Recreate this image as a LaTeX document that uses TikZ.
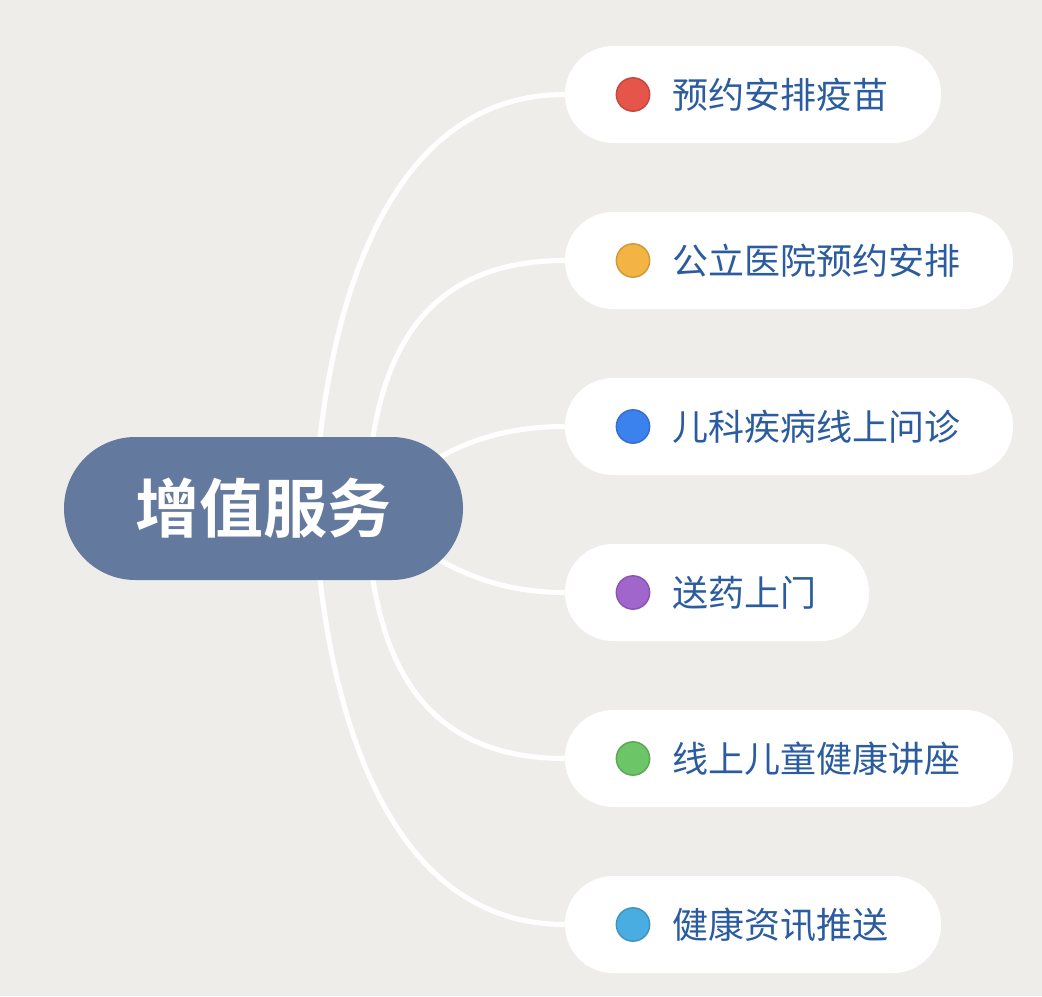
\documentclass[tikz,border=0pt]{standalone}
\usepackage{fontspec}
\newfontfamily\cjk{Noto Sans CJK SC}
\newfontfamily\cjkb{Noto Sans CJK SC Bold}
\usetikzlibrary{backgrounds,calc}
\definecolor{bgc}{HTML}{EEEDE9}
\definecolor{mainc}{HTML}{637A9E}
\definecolor{txtc}{HTML}{2B5C9F}
\definecolor{dred}{HTML}{E5554A}
\definecolor{dorange}{HTML}{F4B443}
\definecolor{dblue}{HTML}{3C82EE}
\definecolor{dpurple}{HTML}{A066CC}
\definecolor{dgreen}{HTML}{6CC566}
\definecolor{dlblue}{HTML}{4AADE2}
\tikzset{
  mainnode/.style={fill=mainc, rounded corners=53.5pt, minimum width=299.25pt, minimum height=107.25pt, inner sep=0pt, text=white, font=\cjkb\fontsize{48pt}{50pt}\selectfont},
  leaf/.style={fill=white, rounded corners=36pt, minimum height=72.75pt, inner sep=0pt},
  dotnode/.style={circle, fill=#1, draw=#1!85!black, line width=1.1pt, minimum size=25pt, inner sep=0pt},
  label/.style={anchor=west, inner sep=0pt, text=txtc, font=\cjk\fontsize{27pt}{30pt}\selectfont},
  conn/.style={draw=white, line width=3.8pt}
}
\begin{document}
\begin{tikzpicture}[x=0.75pt,y=-0.75pt]
\useasboundingbox (0,0) rectangle (1042,996);
\node[mainnode] (c) at (263.5,508.5) {增值服务};
\node[leaf, minimum width=282pt] (n1) at (753,94.5) {};
\node[leaf, minimum width=336pt] (n2) at (789,260.5) {};
\node[leaf, minimum width=336pt] (n3) at (789,426.5) {};
\node[leaf, minimum width=228pt] (n4) at (717,592.5) {};
\node[leaf, minimum width=336pt] (n5) at (789,758.5) {};
\node[leaf, minimum width=282pt] (n6) at (753,924.5) {};
\node[dotnode=dred] (d1) at (633,94.5) {};
\node[dotnode=dorange] (d2) at (633,260.5) {};
\node[dotnode=dblue] (d3) at (633,426.5) {};
\node[dotnode=dpurple] (d4) at (633,592.5) {};
\node[dotnode=dgreen] (d5) at (633,758.5) {};
\node[dotnode=dlblue] (d6) at (633,924.5) {};
\node[label] (t1) at (672,94.5) {预约安排疫苗};
\node[label] (t2) at (672,260.5) {公立医院预约安排};
\node[label] (t3) at (672,426.5) {儿科疾病线上问诊};
\node[label] (t4) at (672,592.5) {送药上门};
\node[label] (t5) at (672,758.5) {线上儿童健康讲座};
\node[label] (t6) at (672,924.5) {健康资讯推送};
\begin{pgfonlayer}{background}
\fill[bgc] (0,0) rectangle (1042,996);
\draw[conn] ($(c.center)+(56,-66)$) .. controls (335,300) and (390,94.5) .. (n1.west);
\draw[conn] ($(c.center)+(108.5,-66)$) .. controls (385,360) and (420,260.5) .. (n2.west);
\draw[conn] ($(c.center)+(156.5,-38.5)$) .. controls (460,441) and (508,426.5) .. (n3.west);
\draw[conn] ($(c.center)+(156.5,38.5)$) .. controls (460,576) and (508,592.5) .. (n4.west);
\draw[conn] ($(c.center)+(108.5,66)$) .. controls (385,657) and (420,758.5) .. (n5.west);
\draw[conn] ($(c.center)+(56,66)$) .. controls (335,717) and (390,924.5) .. (n6.west);
\end{pgfonlayer}
\end{tikzpicture}
\end{document}
